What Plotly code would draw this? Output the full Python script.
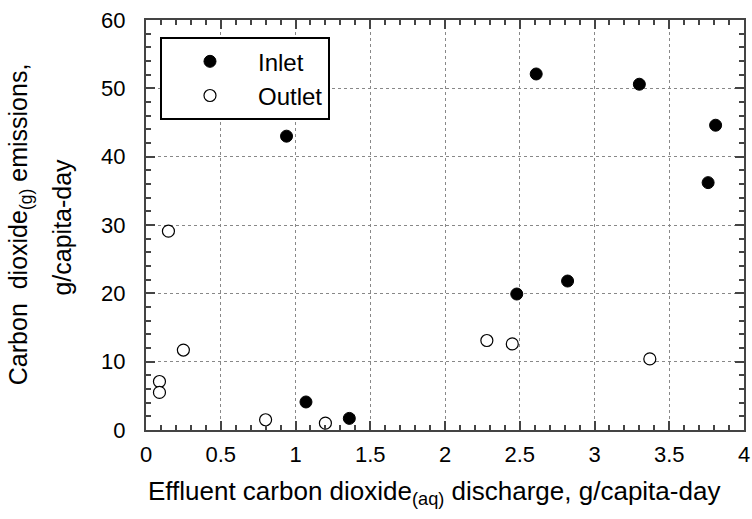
import plotly.graph_objects as go

inlet_x = [0.94, 1.07, 1.36, 2.48, 2.61, 2.82, 3.30, 3.76, 3.81]
inlet_y = [43.0, 4.1, 1.7, 19.9, 52.1, 21.8, 50.6, 36.2, 44.6]
outlet_x = [0.09, 0.09, 0.15, 0.25, 0.80, 1.20, 2.28, 2.45, 3.37]
outlet_y = [7.1, 5.5, 29.1, 11.7, 1.5, 1.0, 13.1, 12.6, 10.4]

x_ticks = [0, 0.5, 1, 1.5, 2, 2.5, 3, 3.5, 4]
x_ticktext = ["0", "0.5", "1", "1.5", "2", "2.5", "3", "3.5", "4"]
y_ticks = [0, 10, 20, 30, 40, 50, 60]

FONT = "Liberation Sans, Arial, sans-serif"

fig = go.Figure()
fig.add_trace(go.Scatter(x=inlet_x, y=inlet_y, mode="markers", name="Inlet",
                         marker=dict(size=12, color="black", line=dict(color="black", width=1))))
fig.add_trace(go.Scatter(x=outlet_x, y=outlet_y, mode="markers", name="Outlet",
                         marker=dict(size=12, color="white", line=dict(color="black", width=1.2))))

axis_common = dict(
    showline=True, linecolor="#444", linewidth=2, mirror="ticks",
    ticks="inside", ticklen=9, tickwidth=1.5, tickcolor="#444",
    showgrid=True, gridcolor="#888", griddash="dot", gridwidth=1,
    zeroline=False, automargin=False,
    tickfont=dict(size=22, color="black", family=FONT),
)
fig.update_xaxes(range=[0, 4], tickvals=x_ticks, ticktext=x_ticktext,
                 minor=dict(dtick=0.1, tick0=0, ticks="inside", ticklen=5, tickcolor="#444", showgrid=False),
                 ticklabelstandoff=4,
                 title=dict(text="Effluent carbon dioxide<sub>(aq)</sub> discharge, g/capita-day&nbsp;&nbsp;&nbsp;",
                            font=dict(size=26, color="black", family=FONT), standoff=15),
                 **axis_common)
fig.update_yaxes(range=[0, 60], tickvals=y_ticks,
                 minor=dict(dtick=2, tick0=0, ticks="inside", ticklen=5, tickcolor="#444", showgrid=False),
                 ticklabelstandoff=14,
                 **axis_common)

fig.add_annotation(text="Carbon&nbsp;&nbsp;dioxide<sub>(g)</sub> emissions,", xref="paper", yref="paper",
                   x=-0.2107, y=0.502, xanchor="center", yanchor="middle",
                   textangle=-90, showarrow=False,
                   font=dict(size=25, color="black", family=FONT))
fig.add_annotation(text="g/capita-day", xref="paper", yref="paper",
                   x=-0.1396, y=0.495, xanchor="center", yanchor="middle",
                   textangle=-90, showarrow=False,
                   font=dict(size=25, color="black", family=FONT))

fig.update_layout(
    width=752, height=519,
    margin=dict(l=146, r=8, t=20, b=89),
    plot_bgcolor="white", paper_bgcolor="white",
    font=dict(family=FONT, color="black"),
    showlegend=True,
    legend=dict(x=0.0234, y=0.958, xanchor="left", yanchor="top",
                bgcolor="white", bordercolor="black", borderwidth=2,
                font=dict(size=24, color="black", family=FONT),
                itemwidth=86, tracegroupgap=0),
)

fig.write_html("out.html", config={"displayModeBar": False},
               post_script="document.body.style.margin='0';")
